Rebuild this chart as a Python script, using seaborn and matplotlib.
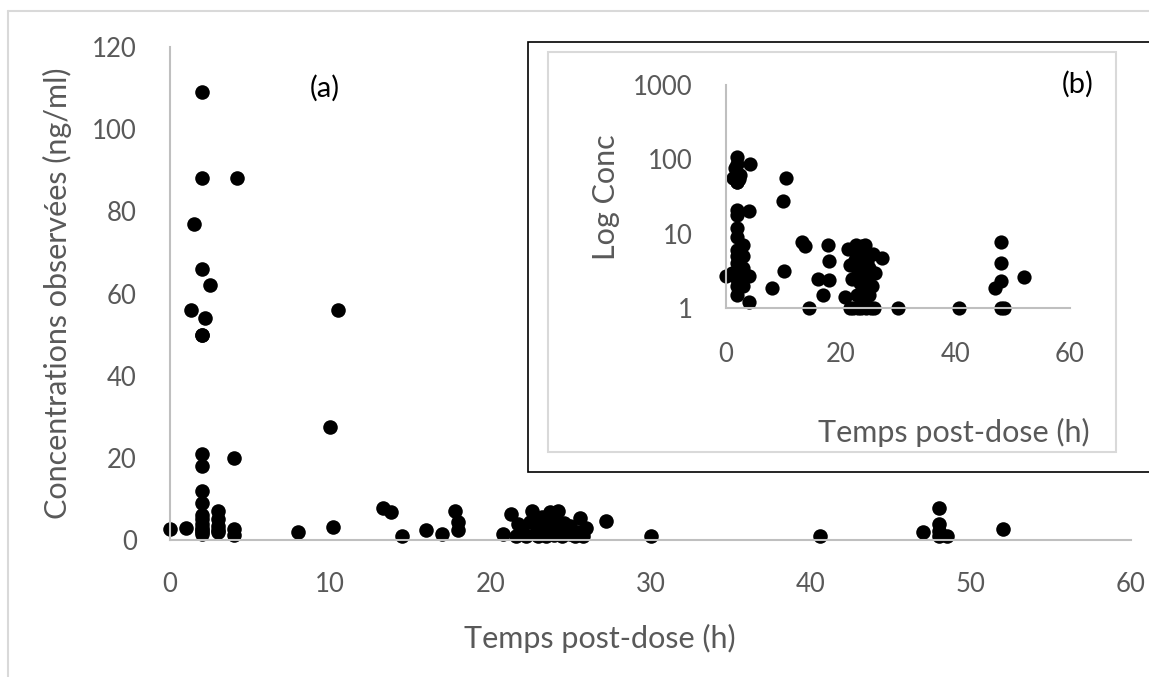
import matplotlib
matplotlib.use("Agg")
import matplotlib.pyplot as plt
import seaborn as sns
import pandas as pd
from matplotlib.patches import Rectangle
from matplotlib.lines import Line2D

# ---- data ----
temps = [0, 1, 1.3, 1.5,
         2, 2, 2, 2, 2, 2, 2, 2, 2, 2, 2, 2, 2, 2, 2, 2,
         2.2, 2.5,
         3, 3, 3, 3, 3,
         4, 4, 4, 4.2,
         8, 10, 10.2, 10.5, 13.3, 13.8, 14.5, 16, 17, 17.8, 18, 18, 20.8,
         21.3, 21.7, 21.6, 22.0, 22.2, 22.5, 22.6, 22.8, 23.0, 23.0, 23.2, 23.3,
         23.5, 23.5, 23.7, 23.8, 24.0, 24.0, 24.0, 24.2, 24.3, 24.5, 24.6, 24.8,
         25.0, 25.0, 25.3, 25.5, 25.6, 25.8, 26.0,
         27.2, 30, 40.6, 47, 48, 48, 48, 48, 48.5, 52]
conc = [2.7, 3.0, 56, 77,
        109, 88, 66, 50, 50, 21, 18, 12, 9, 6, 5, 4, 3, 2.5, 2, 1.5,
        54, 62,
        7, 5, 3.5, 2.5, 2,
        20, 2.7, 1.2, 88,
        1.9, 27.5, 3.2, 56, 7.7, 6.8, 1.0, 2.5, 1.5, 7.0, 4.3, 2.4, 1.4,
        6.3, 3.8, 1.0, 2.5, 1.0, 4.5, 7.0, 1.5, 3.0, 1.0, 5.5, 2.2,
        4.0, 1.0, 6.8, 3.0, 1.2, 2.0, 5.0, 7.0, 3.5, 1.0, 4.2, 2.5,
        1.5, 3.5, 1.0, 2.0, 5.3, 1.0, 3.0,
        4.7, 1.0, 1.0, 1.9, 7.7, 4.0, 2.3, 1.0, 1.0, 2.6]

main_xticks = [0, 10, 20, 30, 40, 50, 60]
main_yticks = [0, 20, 40, 60, 80, 100, 120]
inset_xticks = [0, 20, 40, 60]
inset_yticks = [1, 10, 100, 1000]
inset_ytick_labels = ["1", "10", "100", "1000"]

df = pd.DataFrame({"temps": temps, "conc": conc})

sns.set_theme(style="white")
plt.rcParams["font.family"] = ["Lato", "DejaVu Sans"]

W, H = 1149, 677
fig = plt.figure(figsize=(W / 100, H / 100), dpi=100)
TXT = "#595959"
SPINE = "#bfbfbf"
FRAME = "#d9d9d9"
TICK_FS = 18.5
LABEL_FS = 22

def fx(px):
    return px / W

def fy(py):
    return 1 - py / H

# outer chart frame (top and left visible)
fig.add_artist(Line2D([fx(8), fx(8)], [fy(11), fy(700)], color=FRAME, lw=1.5,
                      transform=fig.transFigure, zorder=0.5))
fig.add_artist(Line2D([fx(8), fx(1200)], [fy(11), fy(11)], color=FRAME, lw=1.5,
                      transform=fig.transFigure, zorder=0.5))

# ---- main axes ----
ax = fig.add_axes([fx(170), fy(540), fx(1131) - fx(170), fy(47) - fy(540)])
ax.set_zorder(0)
sns.scatterplot(data=df, x="temps", y="conc", ax=ax, color="black",
                s=110, edgecolor="black", linewidth=0, legend=False, clip_on=False)
ax.set_xlim(0, 60)
ax.set_ylim(0, 120)
ax.set_xticks(main_xticks)
ax.set_yticks(main_yticks)
ax.tick_params(length=0, labelsize=TICK_FS, colors=TXT)
ax.tick_params(axis="y", pad=24)
ax.tick_params(axis="x", pad=23)
for s in ["top", "right"]:
    ax.spines[s].set_visible(False)
for s in ["left", "bottom"]:
    ax.spines[s].set_color(SPINE)
    ax.spines[s].set_linewidth(1.5)
ax.set_xlabel("")
ax.set_ylabel("")
fig.text(fx(600), fy(638), "Temps post-dose (h)", ha="center", va="center",
         fontsize=LABEL_FS, color=TXT)
fig.text(fx(57), fy(293), "Concentrations observées (ng/ml)", ha="center",
         va="center", rotation=90, fontsize=LABEL_FS, color=TXT)
fig.text(fx(325), fy(88), "(a)", ha="center", va="center", fontsize=21,
         color="black")

# ---- inset frame ----
fig.add_artist(Rectangle((fx(528), fy(471.7)), fx(1200) - fx(528), fy(41.7) - fy(471.7),
                         transform=fig.transFigure, facecolor="white",
                         edgecolor="black", lw=1.2, zorder=1))
fig.add_artist(Rectangle((fx(548), fy(452)), fx(1116) - fx(548), fy(51.7) - fy(452),
                         transform=fig.transFigure, facecolor="white",
                         edgecolor=FRAME, lw=1.5, zorder=1.1))

# ---- inset axes ----
ax2 = fig.add_axes([fx(726), fy(308.3), fx(1070) - fx(726), fy(85) - fy(308.3)])
ax2.set_zorder(2)
ax2.patch.set_alpha(0)
sns.scatterplot(data=df, x="temps", y="conc", ax=ax2, color="black",
                s=105, edgecolor="black", linewidth=0, legend=False, clip_on=False)
ax2.set_yscale("log")
ax2.set_xlim(0, 60)
ax2.set_ylim(1, 1000)
ax2.set_xticks(inset_xticks)
ax2.set_yticks(inset_yticks)
ax2.set_yticklabels(inset_ytick_labels)
ax2.minorticks_off()
ax2.tick_params(length=0, labelsize=TICK_FS, colors=TXT)
ax2.tick_params(axis="y", pad=24)
ax2.tick_params(axis="x", pad=24)
for s in ["top", "right"]:
    ax2.spines[s].set_visible(False)
for s in ["left", "bottom"]:
    ax2.spines[s].set_color(SPINE)
    ax2.spines[s].set_linewidth(1.5)
ax2.set_xlabel("")
ax2.set_ylabel("")
fig.text(fx(1090), fy(432), "Temps post-dose (h)", ha="right", va="center",
         fontsize=LABEL_FS, color=TXT)
fig.text(fx(606), fy(197), "Log Conc", ha="center", va="center", rotation=90,
         fontsize=LABEL_FS, color=TXT)
fig.text(fx(1078), fy(84), "(b)", ha="center", va="center", fontsize=21,
         color="black")

fig.savefig("out.png", dpi=100)
